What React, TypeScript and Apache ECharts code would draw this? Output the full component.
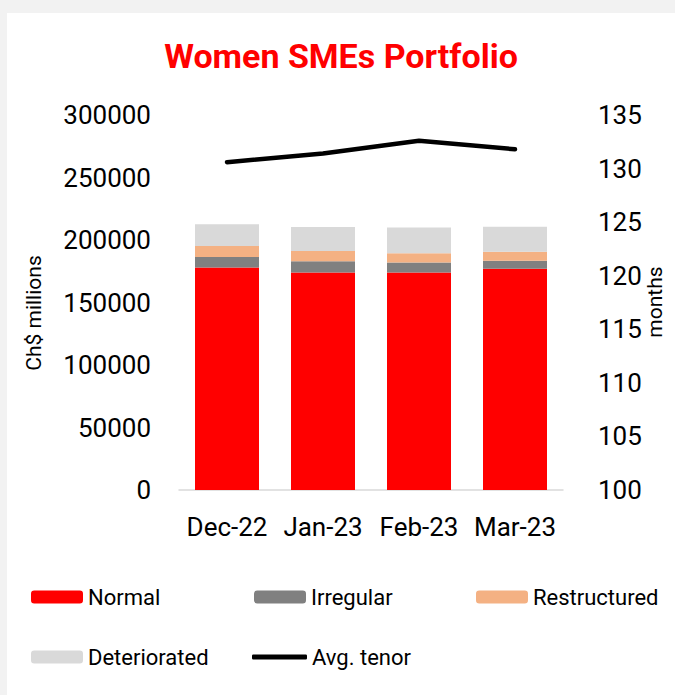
import React, { useEffect, useRef } from "react";
import * as echarts from "echarts";

const categories = ["Dec-22", "Jan-23", "Feb-23", "Mar-23"];
const normal = [178000, 174000, 174000, 177000];
const irregular = [8500, 9000, 8000, 6500];
const restructured = [8800, 8200, 7500, 7200];
const deteriorated = [17300, 19200, 20600, 20000];
const avgTenor = [130.6, 131.4, 132.6, 131.8];

const FONT = "Roboto";

export default function App() {
  const ref = useRef<HTMLDivElement>(null);
  useEffect(() => {
    if (!ref.current) return;
    const chart = echarts.init(ref.current, null, { renderer: "svg" });
    const legendText = { fontFamily: FONT, fontSize: 22, color: "#000" };
    const legendCommon = {
      padding: 0,
      itemWidth: 52,
      itemHeight: 13,
      textStyle: legendText,
      selectedMode: false,
    };
    const row1 = 586;
    const row2 = 646;
    chart.setOption({
      animation: false,
      backgroundColor: "transparent",
      textStyle: { fontFamily: FONT },
      graphic: [
        {
          type: "text",
          x: 341,
          y: 56,
          style: {
            text: "Women SMEs Portfolio",
            fontFamily: FONT,
            fontSize: 34,
            fontWeight: "bold",
            fill: "#ff0000",
            align: "center",
            verticalAlign: "middle",
          },
        },
        {
          type: "text",
          x: 34,
          y: 313,
          rotation: Math.PI / 2,
          style: {
            text: "Ch$ millions",
            fontFamily: FONT,
            fontSize: 21,
            fill: "#000",
            align: "center",
            verticalAlign: "middle",
          },
        },
        {
          type: "text",
          x: 655,
          y: 302,
          rotation: Math.PI / 2,
          style: {
            text: "months",
            fontFamily: FONT,
            fontSize: 21,
            fill: "#000",
            align: "center",
            verticalAlign: "middle",
          },
        },
      ],
      legend: [
        { ...legendCommon, data: ["Normal"], left: 31, top: row1 },
        { ...legendCommon, data: ["Irregular"], left: 254, top: row1 },
        { ...legendCommon, data: ["Restructured"], left: 476, top: row1 },
        { ...legendCommon, data: ["Deteriorated"], left: 31, top: row2 },
        {
          ...legendCommon,
          data: [{ name: "Avg. tenor", icon: "roundRect" }],
          left: 252,
          top: row2,
          itemWidth: 55,
          itemHeight: 5,
        },
      ],
      grid: { left: 179, right: 112, top: 115, bottom: 205 },
      xAxis: {
        type: "category",
        data: categories,
        axisLine: { lineStyle: { color: "#d9d9d9", width: 1.5 } },
        axisTick: { show: false },
        axisLabel: { fontFamily: FONT, fontSize: 26, color: "#000", margin: 24, interval: 0 },
      },
      yAxis: [
        {
          type: "value",
          min: 0,
          max: 300000,
          interval: 50000,
          splitLine: { show: false },
          axisLine: { show: false },
          axisTick: { show: false },
          axisLabel: {
            fontFamily: FONT,
            fontSize: 26,
            color: "#000",
            margin: 28,
            formatter: (v: number) => String(v),
          },
        },
        {
          type: "value",
          min: 100,
          max: 135,
          interval: 5,
          position: "right",
          splitLine: { show: false },
          axisLine: { show: false },
          axisTick: { show: false },
          axisLabel: { fontFamily: FONT, fontSize: 26, color: "#000", margin: 35 },
        },
      ],
      series: [
        { name: "Normal", type: "bar", stack: "p", barWidth: 64, data: normal, itemStyle: { color: "#ff0000" } },
        { name: "Irregular", type: "bar", stack: "p", barWidth: 64, data: irregular, itemStyle: { color: "#808080" } },
        { name: "Restructured", type: "bar", stack: "p", barWidth: 64, data: restructured, itemStyle: { color: "#f4b183" } },
        { name: "Deteriorated", type: "bar", stack: "p", barWidth: 64, data: deteriorated, itemStyle: { color: "#d9d9d9" } },
        {
          name: "Avg. tenor",
          type: "line",
          yAxisIndex: 1,
          data: avgTenor,
          symbol: "none",
          lineStyle: { color: "#000", width: 4.5, cap: "round", join: "round" },
          itemStyle: { color: "#000" },
        },
      ],
    });
    return () => chart.dispose();
  }, []);
  return (
    <div style={{ position: "relative", width: 675, height: 695, background: "#f2f2f2", overflow: "hidden" }}>
      <style>{`body{margin:0}`}</style>
      <div style={{ position: "absolute", left: 7, top: 13, width: 668, height: 682, background: "#fff" }} />
      <div ref={ref} style={{ position: "absolute", left: 0, top: 0, width: 675, height: 695 }} />
    </div>
  );
}
